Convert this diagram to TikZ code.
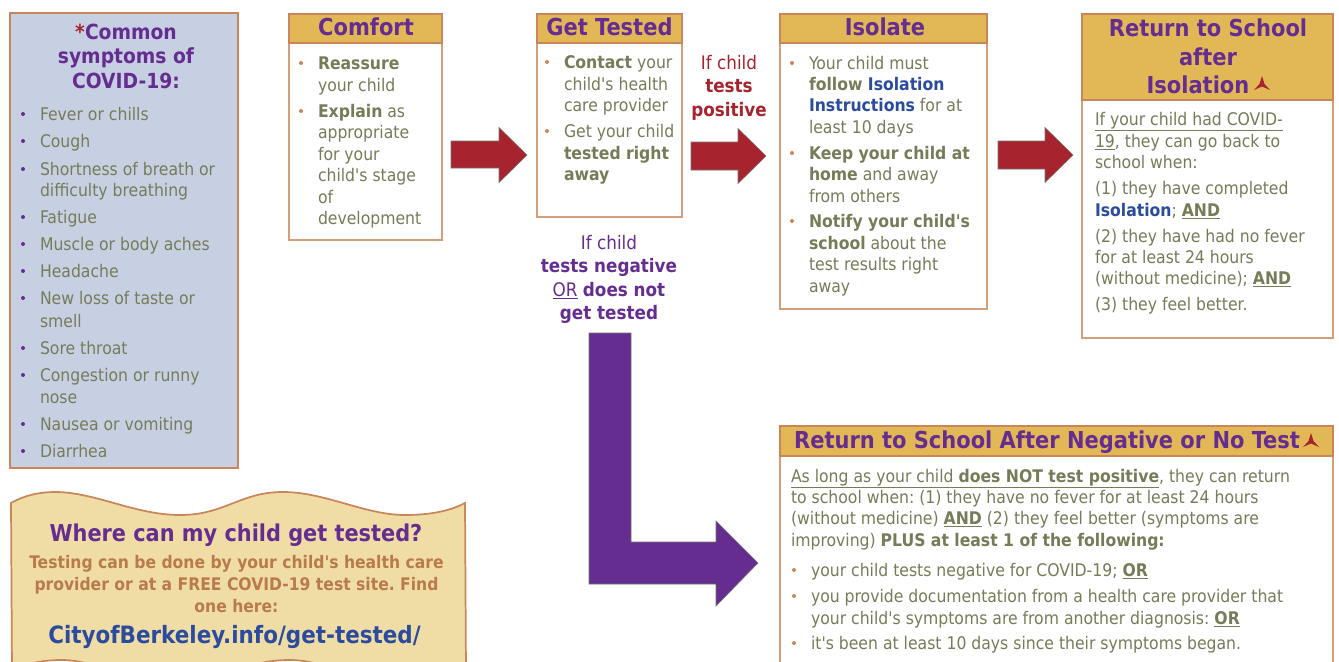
\documentclass[tikz,border=0pt]{standalone}
\usepackage{fontspec}
\setmainfont{DejaVu Sans Condensed}
\definecolor{purp}{HTML}{662D91}
\definecolor{gold}{HTML}{E2B857}
\definecolor{edge}{HTML}{C9865A}
\definecolor{pale}{HTML}{C7D0E3}
\definecolor{olive}{HTML}{767B58}
\definecolor{redd}{HTML}{A7242E}
\definecolor{blu}{HTML}{2B4B9E}
\definecolor{sand}{HTML}{F0DDA6}
\definecolor{rust}{HTML}{B97A4C}
\newcount\tn
\tikzset{
  x=0.75pt,y=-0.75pt,
  txt/.style={inner sep=0pt,outer sep=0pt,anchor=base west,text=olive,font=\fontsize{13.05}{16}\selectfont},
  ctr/.style={txt,anchor=base},
  head/.style={ctr,text=purp,font=\fontsize{17.5}{20}\selectfont\bfseries},
  box/.style={draw=edge!80!white,line width=1.3pt,fill=white},
  hbar/.style={draw=edge,line width=1.3pt,fill=gold},
  redarrow/.style={fill=redd,draw=black!55,line width=0.4pt},
  purparrow/.style={fill=purp,draw=black!55,line width=0.4pt},
}
\newcommand\tl[3]{\global\advance\tn by 1 \node[txt] (t\the\tn) at (#1,#2) {#3};}
\newcommand\tc[4][ctr]{\global\advance\tn by 1 \node[#1] (t\the\tn) at (#2,#3) {#4};}
\newcommand\bul[3]{\global\advance\tn by 1 \node[circle,inner sep=0pt,minimum size=3pt,fill=#3] (t\the\tn) at (#1,#2-6) {};}
\newcommand\redarr[6]{\draw[redarrow] (#1,#3) -- (#5,#3) -- (#5,#6-27.5) -- (#2,#6) -- (#5,#6+27.5) -- (#5,#4) -- (#1,#4) -- cycle;}
\newcommand\tripod[2]{\fill[redd] (#1,#2) -- (#1+2.5,#2+8) -- (#1+8,#2+14) -- (#1,#2+10.5) -- (#1-8,#2+14) -- (#1-2.5,#2+8) -- cycle;}
\newcommand\bb[1]{\textbf{#1}}
\newcommand\ul[1]{\underline{#1}}
\newcommand\ap{\XeTeXglyph\XeTeXcharglyph"0027\relax}
\begin{document}
\frenchspacing
\begin{tikzpicture}
\useasboundingbox (0,0) rectangle (1339,661);
\clip (0,0) rectangle (1339,661);
% symptoms
\draw[draw=edge,line width=1.5pt,fill=pale] (10,13) rectangle (238,468);
\tikzset{symhead/.style={head,font=\fontsize{15.6}{20}\selectfont\bfseries}}
\tc[symhead]{126}{39}{\textcolor{redd}{*}Common}
\tc[symhead]{126}{63}{symptoms of}
\tc[symhead]{126}{88}{COVID-19:}
\foreach \y in {120,147,175,223,250,277,304,354,381,430,457}{\bul{23}{\y}{purp}}
\tl{40}{120}{Fever or chills}
\tl{40}{147}{Cough}
\tl{40}{175}{Shortness of breath or}
\tl{40}{196}{difficulty breathing}
\tl{40}{223}{Fatigue}
\tl{40}{250}{Muscle or body aches}
\tl{40}{277}{Headache}
\tl{40}{304}{New loss of taste or}
\tl{40}{327}{smell}
\tl{40}{354}{Sore throat}
\tl{40}{381}{Congestion or runny}
\tl{40}{403}{nose}
\tl{40}{430}{Nausea or vomiting}
\tl{40}{457}{Diarrhea}
% comfort
\draw[box] (289,14) rectangle (442,240);
\draw[hbar] (289,14) rectangle (442,43);
\tc[head]{366}{35}{Comfort}
\foreach \y in {69,117}{\bul{301}{\y}{edge}}
\tl{318}{69}{\bb{Reassure}}
\tl{318}{91}{your child}
\tl{318}{117}{\bb{Explain} as}
\tl{318}{138}{appropriate}
\tl{318}{160}{for your}
\tl{318}{181}{child\ap s stage}
\tl{318}{203}{of}
\tl{318}{224}{development}
% get tested
\draw[box] (537,14) rectangle (682,217);
\draw[hbar] (537,14) rectangle (682,43);
\tc[head]{609.5}{35}{Get Tested}
\foreach \y in {68,137}{\bul{547}{\y}{edge}}
\tl{564}{68}{\bb{Contact} your}
\tl{564}{90}{child\ap s health}
\tl{564}{111}{care provider}
\tl{564}{137}{Get your child}
\tl{564}{159}{\bb{tested right}}
\tl{564}{180}{\bb{away}}
% isolate
\draw[box] (780,14) rectangle (987,309);
\draw[hbar] (780,14) rectangle (987,43);
\tc[head]{885}{35}{Isolate}
\foreach \y in {69,159,227}{\bul{792}{\y}{edge}}
\tl{809}{69}{Your child must}
\tl{809}{90}{\bb{follow \textcolor{blu}{Isolation}}}
\tl{809}{111}{\bb{\textcolor{blu}{Instructions}} for at}
\tl{809}{133}{least 10 days}
\tl{809}{159}{\bb{Keep your child at}}
\tl{809}{180}{\bb{home} and away}
\tl{809}{202}{from others}
\tl{809}{227}{\bb{Notify your child\ap s}}
\tl{809}{249}{\bb{school} about the}
\tl{809}{270}{test results right}
\tl{809}{292}{away}
% return after isolation
\draw[box] (1082,14) rectangle (1333,338);
\draw[hbar] (1082,14) rectangle (1333,100);
\tc[head]{1208}{36}{Return to School}
\tc[head]{1208}{65}{after}
\tc[head]{1198}{93}{Isolation}
\tripod{1262}{76}
\tl{1095}{125}{\ul{If your child had COVID-}}
\tl{1095}{147}{\ul{19}, they can go back to}
\tl{1095}{168}{school when:}
\tl{1095}{194}{(1) they have completed}
\tl{1095}{216}{\bb{\textcolor{blu}{Isolation}}; \bb{\ul{AND}}}
\tl{1095}{242}{(2) they have had no fever}
\tl{1095}{263}{for at least 24 hours}
\tl{1095}{284}{(without medicine); \bb{\ul{AND}}}
\tl{1095}{310}{(3) they feel better.}
% return after negative
\draw[box] (780,700) -- (780,426) -- (1333,426) -- (1333,700);
\draw[hbar] (780,426) rectangle (1333,456);
\tc[head]{1047}{448}{Return to School After Negative or No Test}
\tripod{1311}{433}
\tl{791}{482}{\ul{As long as your child \bb{does NOT test positive}}, they can return}
\tl{791}{503}{to school when: (1) they have no fever for at least 24 hours}
\tl{791}{524}{(without medicine) \bb{\ul{AND}} (2) they feel better (symptoms are}
\tl{791}{546}{improving) \bb{PLUS at least 1 of the following:}}
\foreach \y in {576,602,649}{\bul{794}{\y}{edge}}
\tl{811}{576}{your child tests negative for COVID-19; \bb{\ul{OR}}}
\tl{811}{602}{you provide documentation from a health care provider that}
\tl{811}{624}{your child\ap s symptoms are from another diagnosis: \bb{\ul{OR}}}
\tl{811}{649}{it\ap s been at least 10 days since their symptoms began.}
% arrows
\redarr{451}{527}{141}{168}{499}{155}
\redarr{691}{766}{142}{170}{738}{156}
\redarr{998}{1073}{141}{169}{1045}{155}
\draw[purparrow] (589,333) -- (631,333) -- (631,542) -- (716,542) -- (716,521) -- (758,563) -- (716,606) -- (716,584) -- (589,584) -- cycle;
% labels
\tikzset{lred/.style={ctr,text=redd,font=\fontsize{14}{16}\selectfont},lpur/.style={ctr,text=purp,font=\fontsize{14}{16}\selectfont}}
\tc[lred]{729}{69}{If child}
\tc[lred]{729}{92}{\bb{tests}}
\tc[lred]{729}{116}{\bb{positive}}
\tc[lpur]{609}{249}{If child}
\tc[lpur]{609}{272}{\bb{tests negative}}
\tc[lpur]{609}{296}{\ul{OR} \bb{does not}}
\tc[lpur]{609}{319}{\bb{get tested}}
% wave
\draw[draw=edge,line width=1.3pt,fill=sand] (11,503) .. controls (25,495) and (40,492) .. (55,492)
  .. controls (95,492) and (135,515) .. (180,515)
  .. controls (225,515) and (240,492) .. (283,492)
  .. controls (325,492) and (365,515) .. (405,515)
  .. controls (430,515) and (450,511) .. (465,503)
  -- (466,672) .. controls (450,680) and (430,683) .. (405,683)
  .. controls (365,683) and (325,660) .. (290,660)
  .. controls (240,660) and (225,683) .. (180,683)
  .. controls (135,683) and (95,660) .. (62,660)
  .. controls (40,660) and (25,664) .. (12,672) -- cycle;
\tc[head,font=\fontsize{17.4}{20}\selectfont\bfseries]{236}{541}{Where can my child get tested?}
\tikzset{wavetxt/.style={ctr,text=rust,font=\fontsize{13}{16}\selectfont\bfseries}}
\tc[wavetxt]{236.5}{568}{Testing can be done by your child\ap s health care}
\tc[wavetxt]{236.5}{590}{provider or at a FREE COVID-19 test site. Find}
\tc[wavetxt]{236.5}{612}{one here:}
\tc[ctr,text=blu,font=\fontsize{17.9}{20}\selectfont\bfseries]{234.5}{643}{CityofBerkeley.info/get-tested/}
\end{tikzpicture}
\end{document}
